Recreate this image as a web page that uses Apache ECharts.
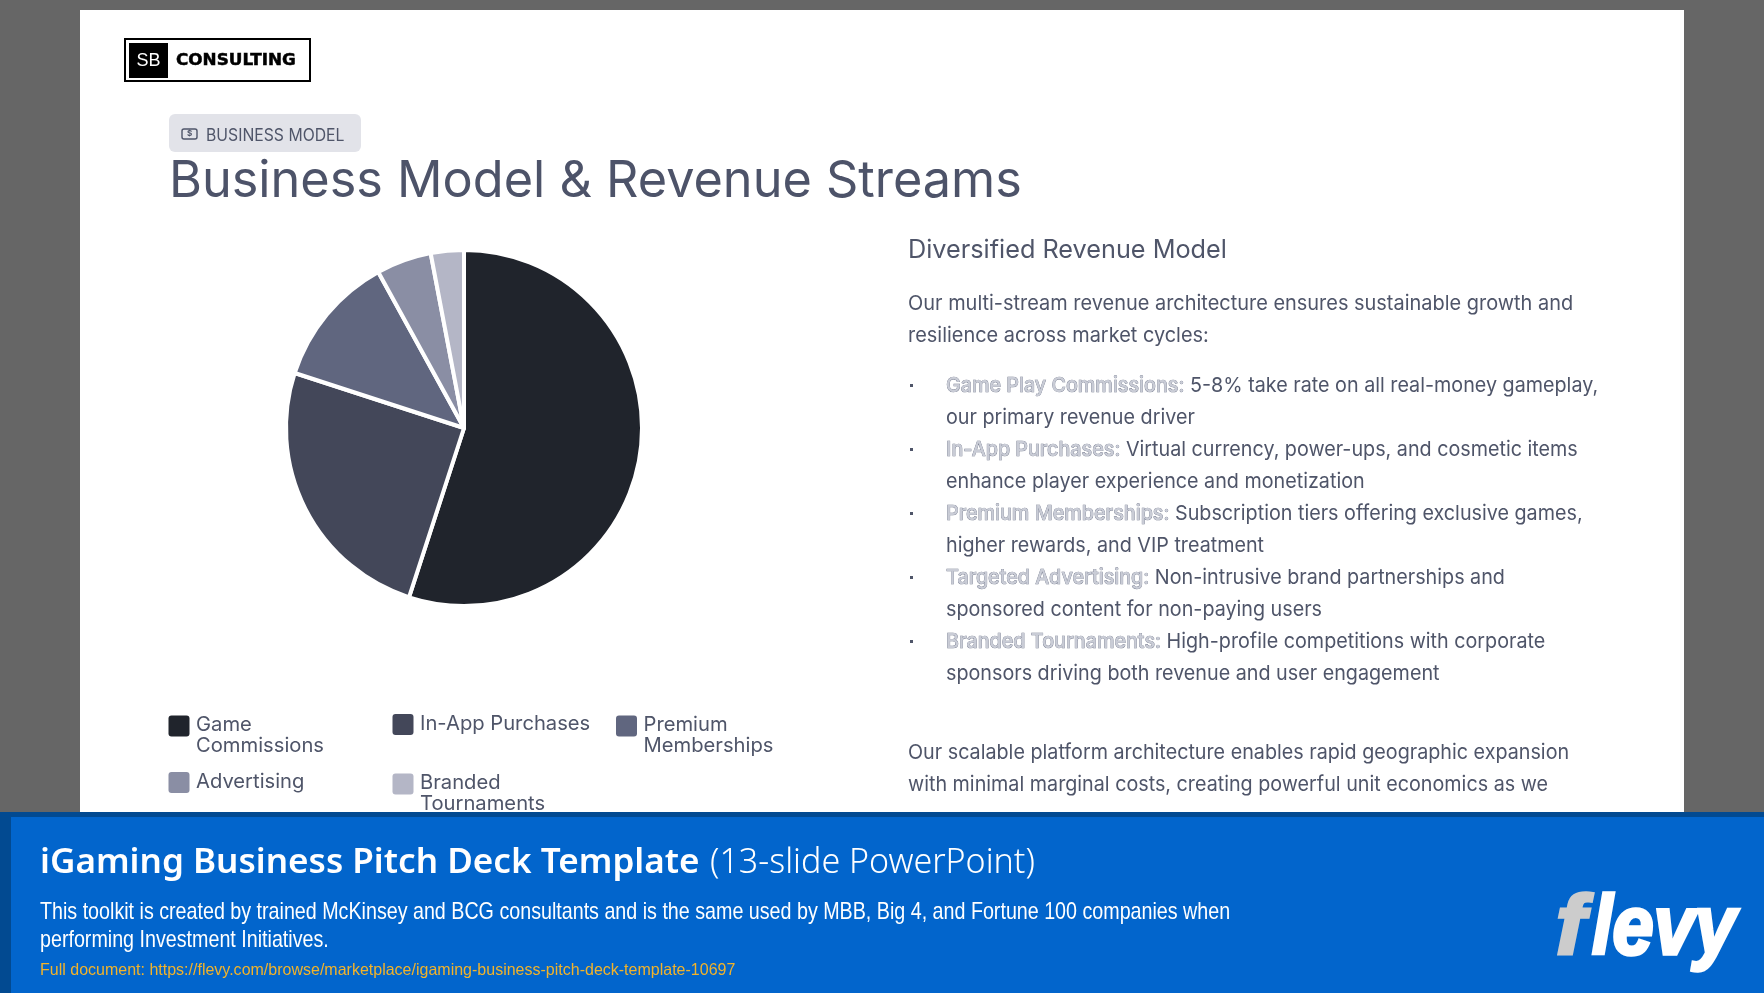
<!DOCTYPE html>
<html><head><meta charset="utf-8">
<style>html,body{margin:0;padding:0;background:#666}#c{width:1764px;height:993px}</style>
<script src="https://cdn.jsdelivr.net/npm/echarts@6/dist/echarts.min.js"></script>
</head><body><div id="c"></div>
<script>
const categories=['Game Commissions','In-App Purchases','Premium Memberships','Advertising','Branded Tournaments'];
const values=[55,25,12,5,3];
const sliceColors=['#20242c','#434759','#60667f','#8a8ea4','#b4b6c6'];
const legendLabels=['Game\nCommissions','In-App Purchases','Premium\nMemberships','Advertising','Branded\nTournaments'];
const badgeText='BUSINESS MODEL';
const titleText='Business Model & Revenue Streams';
const subTitle='Diversified Revenue Model';
const introLines=['Our multi-stream revenue architecture ensures sustainable growth and','resilience across market cycles:'];
const bullets=[
 ['Game Play Commissions:',' 5-8% take rate on all real-money gameplay,','our primary revenue driver'],
 ['In-App Purchases:',' Virtual currency, power-ups, and cosmetic items','enhance player experience and monetization'],
 ['Premium Memberships:',' Subscription tiers offering exclusive games,','higher rewards, and VIP treatment'],
 ['Targeted Advertising:',' Non-intrusive brand partnerships and','sponsored content for non-paying users'],
 ['Branded Tournaments:',' High-profile competitions with corporate','sponsors driving both revenue and user engagement']];
const outroLines=['Our scalable platform architecture enables rapid geographic expansion','with minimal marginal costs, creating powerful unit economics as we'];
const footTitle='iGaming Business Pitch Deck Template';
const footTitleTail='(13-slide PowerPoint)';
const footDesc=['This toolkit is created by trained McKinsey and BCG consultants and is the same used by MBB, Big 4, and Fortune 100 companies when','performing Investment Initiatives.'];
const footLink='Full document: https://flevy.com/browse/marketplace/igaming-business-pitch-deck-template-10697';

const INK='#4f5569', F='Inter, sans-serif', BODY=20.6, BSX=0.958;
const T=(x,y,text,o={})=>({type:'text',x,y,z:o.z||1,scaleX:o.sx||1,scaleY:o.sy||1,
  style:Object.assign({text,fill:o.fill||INK,font:`${o.style||''} ${o.w||400} ${o.s||BODY}px ${o.f||F}`,verticalAlign:'middle',align:o.align||'left'},o.extra||{})});
const R=(x,y,w,h,fill,o={})=>({type:'rect',z:o.z||0,shape:{x,y,width:w,height:h,r:o.r||0},style:Object.assign({fill},o.extra||{})});

const g=[];
g.push(R(80,10,1604,810,'#ffffff',{z:-1}));
// logo
g.push(R(125,39,185,42,'#ffffff',{extra:{stroke:'#000',lineWidth:2}}));
g.push(R(129,43,39,35,'#000000'));
g.push(T(148.5,61.5,'SB',{fill:'#fff',s:18,f:'Liberation Sans',align:'center'}));
g.push(T(176,61,'CONSULTING',{fill:'#000',s:16,w:700,f:'DejaVu Sans',sx:1.05,extra:{stroke:'#000',lineWidth:0.5}}));
// badge
g.push(R(169,114,192,38,'#e2e3e9',{r:6}));
g.push(R(182,129,15,10,'none',{r:2,extra:{stroke:INK,lineWidth:1.4}}));
g.push(T(189.5,134,'$',{s:8,align:'center',w:700}));
g.push(T(206,135.5,badgeText,{s:16.6,sx:0.95}));
g.push(T(169,182,titleText,{s:50.4,fill:'#4d5369'}));
// right column
g.push(T(908,250,subTitle,{s:25.25}));
introLines.forEach((l,i)=>g.push(T(908,304+32*i,l,{sx:0.968})));
const rich={a:{fill:'#c9ccd6',stroke:'#6f7589',lineWidth:0.7,font:`500 ${BODY}px ${F}`}};
bullets.forEach((b,i)=>{
  const y=386+64*i;
  g.push(R(910,y-2,3,3,INK));
  g.push(T(946,y,`{a|${b[0]}}${b[1]}`,{sx:BSX,extra:{rich}}));
  g.push(T(946,y+32,b[2],{sx:BSX}));
});
outroLines.forEach((l,i)=>g.push(T(908,753+32*i,l,{sx:BSX})));
// footer
g.push(R(0,812,1764,181,'#024a91',{z:10}));
g.push(R(11,817,1753,176,'#0265cc',{z:10}));
g.push(T(40,863,footTitle,{z:11,fill:'#fff',s:35.1,w:600,f:'Noto Sans'}));
g.push(T(710,863,footTitleTail,{z:11,fill:'#fff',s:34,w:300,f:'Noto Sans'}));
footDesc.forEach((l,i)=>g.push(T(40,912+28*i,l,{z:11,fill:'#fff',s:24,f:'Liberation Sans',sx:0.82})));
g.push(T(40,970,footLink,{z:11,fill:'#f2b32a',s:16.5,f:'Liberation Sans',sx:0.97}));
g.push(T(1556,931,'f',{z:11,fill:'#cccccc',s:84,w:700,style:'italic',f:'Liberation Sans',sx:1.05,extra:{stroke:'#cccccc',lineWidth:3.5}}));
g.push(T(1592,931,'levy',{z:11,fill:'#ffffff',s:84,w:700,style:'italic',f:'Liberation Sans',sx:0.88,extra:{stroke:'#ffffff',lineWidth:3.5}}));

// legend: one component per entry so the cells sit on the reference's grid
const cellX=[168.5,392.5,616,168.5,392.5], cellY=[714,714,714,772,772];
const RND='path://M3 0H18A3 3 0 0 1 21 3V18A3 3 0 0 1 18 21H3A3 3 0 0 1 0 18V3A3 3 0 0 1 3 0Z';
const legends=categories.map((name,i)=>{
  const two=legendLabels[i].includes('\n');
  return {show:true,data:[{name,icon:two?RND+'M0 39H0':RND+'M0 -2H0'}],left:cellX[i],top:cellY[i]-(two?0:2),padding:0,
    itemWidth:21,itemHeight:two?39:23,itemGap:0,selectedMode:false,z:4,
    itemStyle:{borderWidth:0},
    formatter:()=>legendLabels[i],
    textStyle:{color:INK,fontFamily:F,fontSize:20.2,lineHeight:21,padding:[0,0,0,1.5]}};
});

const chart=echarts.init(document.getElementById('c'),null,{renderer:'canvas',width:1764,height:993});
chart.setOption({
  backgroundColor:'#666666',animation:false,
  legend:legends,
  series:[{type:'pie',center:[464,428],radius:[0,178],startAngle:90,z:2,silent:true,
    label:{show:false},labelLine:{show:false},
    itemStyle:{borderColor:'#ffffff',borderWidth:4},
    data:categories.map((name,i)=>({name,value:values[i],itemStyle:{color:sliceColors[i]}}))}],
  graphic:{elements:g}
});
</script></body></html>
